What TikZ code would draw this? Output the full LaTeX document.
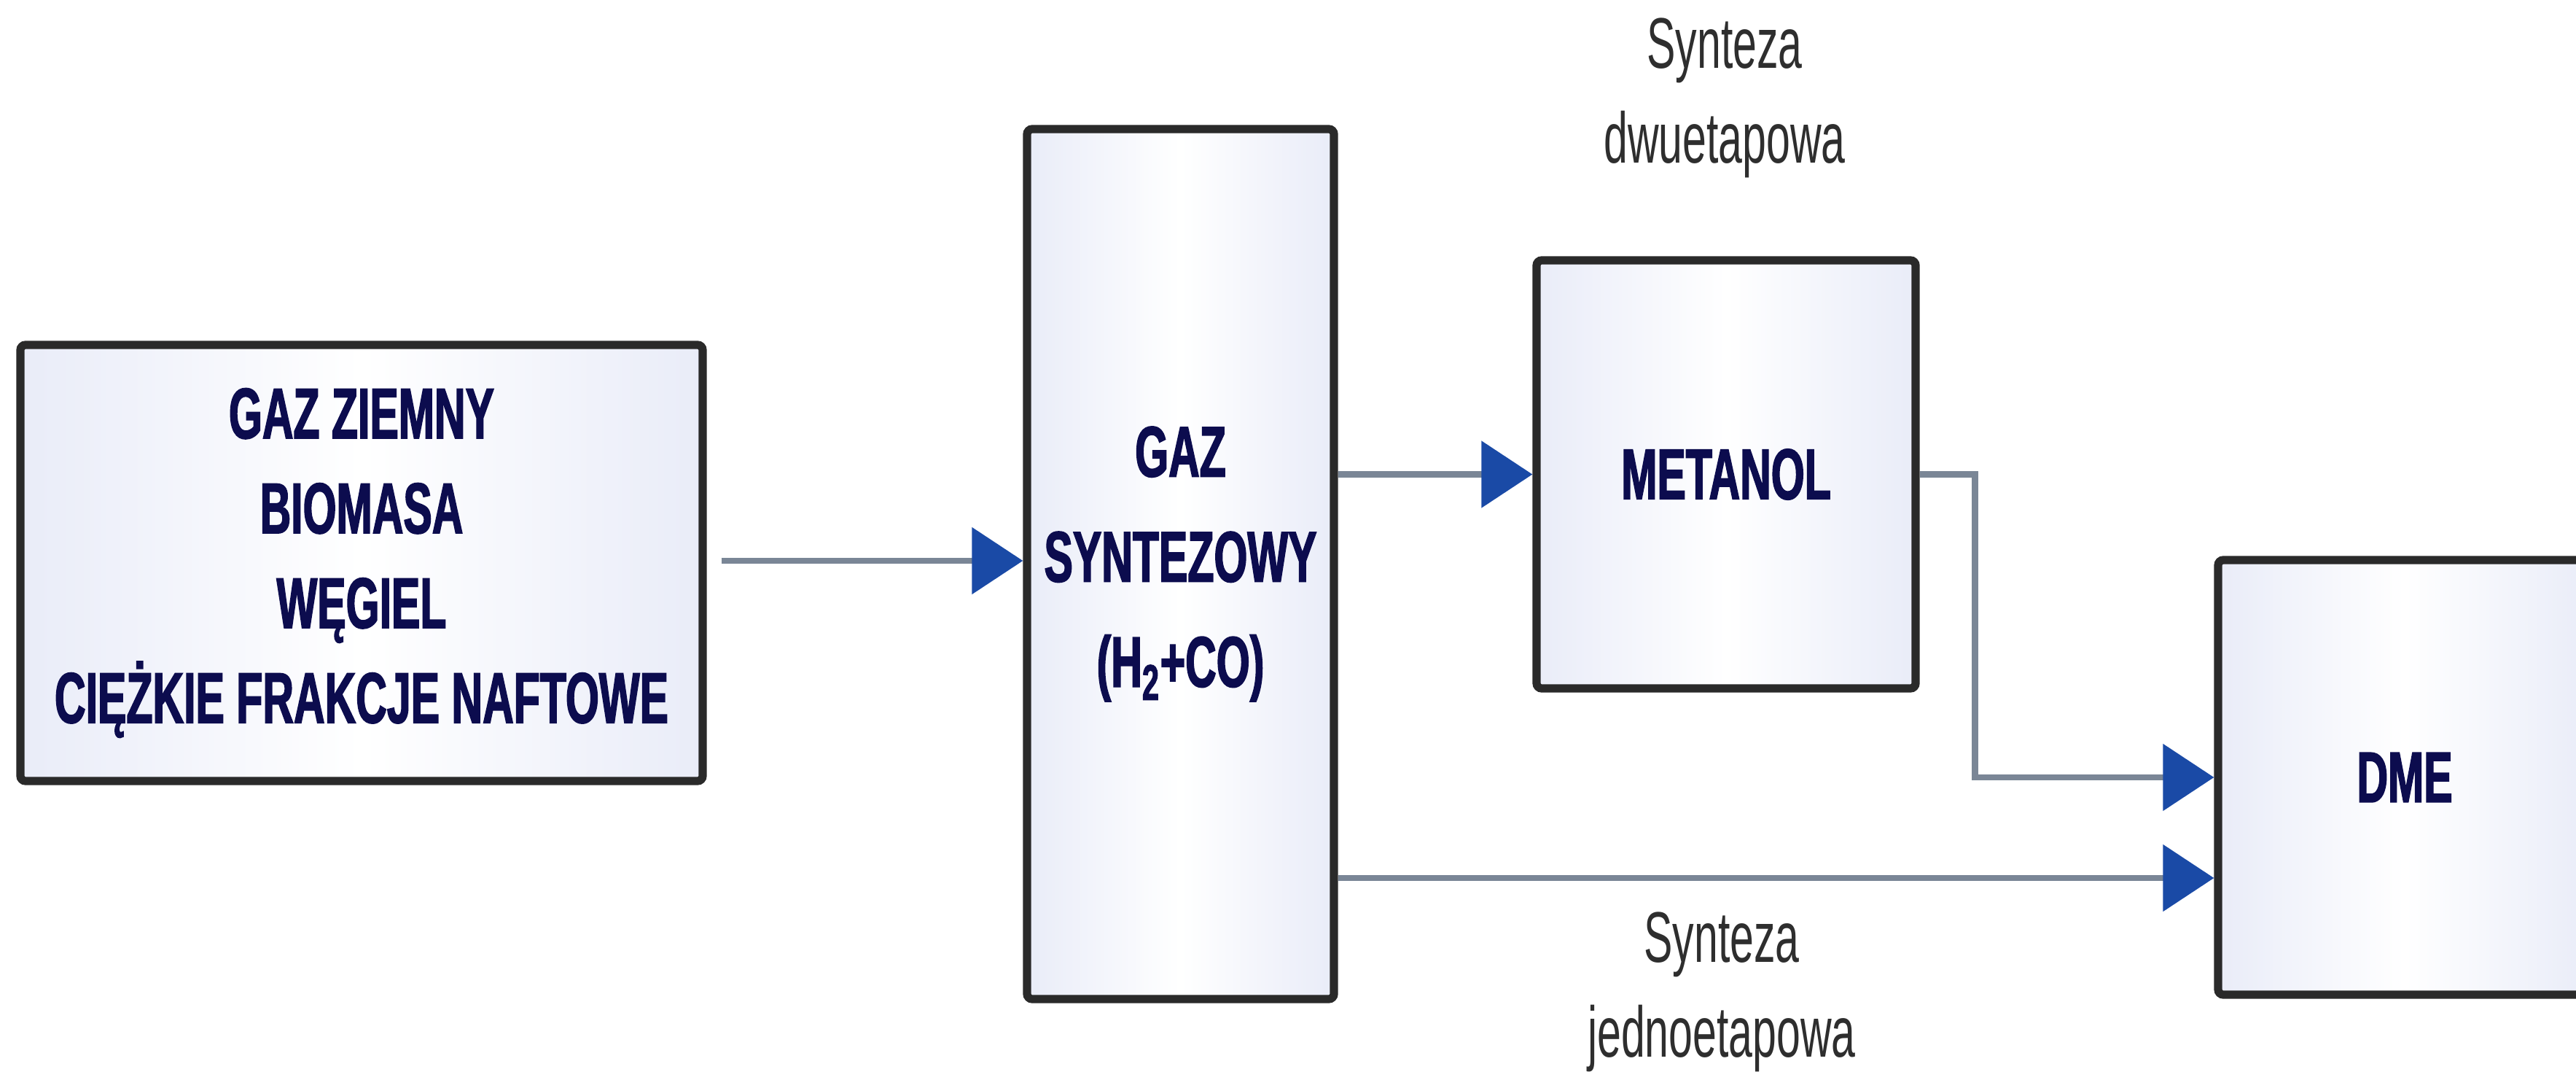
\documentclass[tikz,border=0pt]{standalone}
\usepackage{fontspec}
\usepackage{xcolor}
\usetikzlibrary{positioning,arrows.meta,calc}
\newfontfamily\boxfont[FakeStretch=0.6]{Liberation Sans}
\newfontfamily\heavyfont[FakeStretch=0.6,FakeBold=1.6]{Liberation Sans}
\definecolor{inknavy}{HTML}{0C0C4E}
\definecolor{inkgray}{HTML}{2E2E2E}
\definecolor{edgeline}{HTML}{2A2A2A}
\definecolor{boxedge}{HTML}{E9ECF8}
\definecolor{pipe}{HTML}{7A8696}
\definecolor{tipblue}{HTML}{1A4AA6}
\tikzset{
  unit/.style   = {rectangle, rounded corners=2pt, draw=edgeline, line width=3.2pt,
                   left color=boxedge, right color=boxedge, middle color=white,
                   inner sep=0pt, align=center, text=inknavy,
                   font=\heavyfont\bfseries\fontsize{28}{37}\selectfont},
  flow/.style   = {-{Triangle[length=7mm,width=9mm,color=tipblue]}, line width=2.5pt, draw=pipe},
  route/.style  = {font=\boxfont\fontsize{28}{37}\selectfont, text=inkgray, align=center},
}
\begin{document}
\begin{tikzpicture}
  \useasboundingbox (0,0) rectangle (35.34,14.8);
  \node[unit, minimum width=9.36cm, minimum height=5.98cm] (feed) at (4.96,7.08)
    {GAZ ZIEMNY\\BIOMASA\\WĘGIEL\\CIĘŻKIE FRAKCJE NAFTOWE};
  \node[unit, minimum width=4.21cm, minimum height=11.93cm,
        font=\heavyfont\bfseries\fontsize{28}{41}\selectfont] (syngas) at (16.195,7.065)
    {GAZ\\SYNTEZOWY\\(H\textsubscript{2}+CO)};
  \node[unit, minimum width=5.20cm, minimum height=5.87cm] (metanol) at (23.68,8.295) {METANOL};
  \node[unit, minimum width=5.12cm, minimum height=5.96cm] (dme) at (32.99,4.14) {DME};
  \node[route] (twostep) at (23.66,13.46) {Synteza\\dwuetapowa};
  \node[route] (onestep) at (23.62,1.20) {Synteza\\jednoetapowa};
  \coordinate (dmelow) at ($(dme.west)+(0,-1.38)$);
  \draw[flow, shorten <=2mm] (feed.east |- 0,7.11) -- (syngas.west |- 0,7.11);
  \draw[flow] (syngas.east |- metanol.west) -- (metanol.west);
  \draw[flow] (metanol.east) -- ++(0.76,0) |- (dme.west);
  \draw[flow] (syngas.east |- dmelow) -- (dmelow);
\end{tikzpicture}
\end{document}
